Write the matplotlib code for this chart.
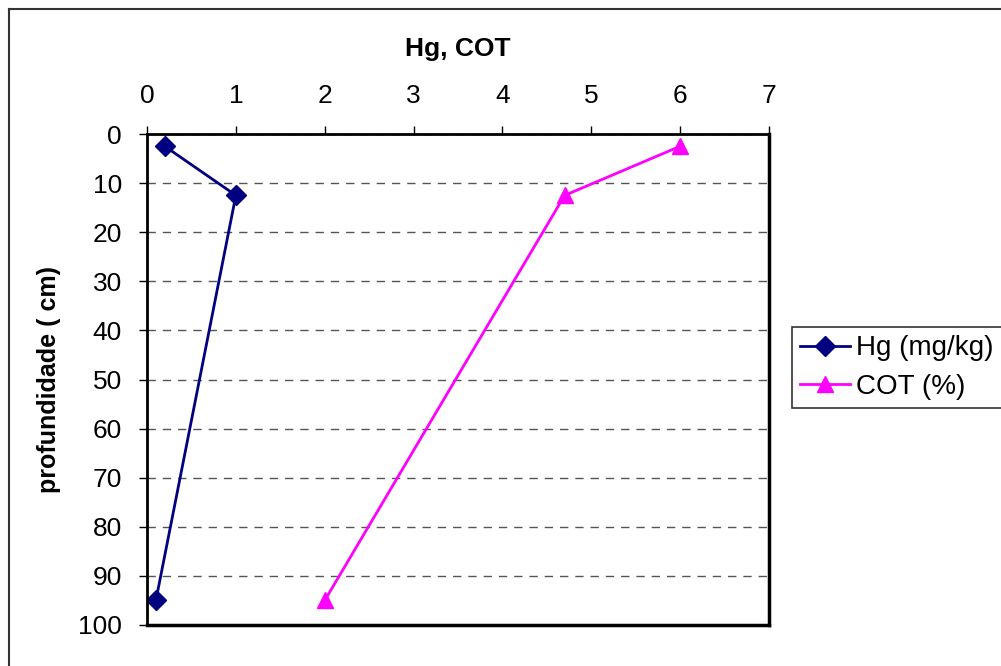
import matplotlib.pyplot as plt
from matplotlib.lines import Line2D

plt.rcParams['font.family'] = ['Liberation Sans', 'DejaVu Sans']

# depth profile (cm) and concentrations
depth = [2.5, 12.5, 95]
hg = [0.2, 1.0, 0.1]
cot = [6.0, 4.7, 2.0]
xticks = [0, 1, 2, 3, 4, 5, 6, 7]
yticks = [0, 10, 20, 30, 40, 50, 60, 70, 80, 90, 100]

W, H = 1001, 666
fig = plt.figure(figsize=(W / 100, H / 100), dpi=100)
ax = fig.add_axes([147 / W, 1 - 625 / H, (769 - 147) / W, (625 - 134) / H])

# outer chart border (runs off the right and bottom edges)
fig.add_artist(Line2D([8.5 / W, 8.5 / W], [1 - 8.5 / H, -0.1], transform=fig.transFigure,
                      color='#333333', lw=1.5))
fig.add_artist(Line2D([8.5 / W, 1.1], [1 - 8.5 / H, 1 - 8.5 / H], transform=fig.transFigure,
                      color='#333333', lw=1.5))

ax.plot(hg, depth, color='#000080', lw=2, marker='D', ms=10, label='Hg (mg/kg)')
ax.plot(cot, depth, color='#FF00FF', lw=2, marker='^', ms=11, label='COT (%)')

ax.set_xlim(0, 7)
ax.set_ylim(100, 0)
ax.set_xticks(xticks)
ax.set_yticks(yticks)
ax.xaxis.tick_top()
ax.xaxis.set_label_position('top')
ax.tick_params(axis='both', direction='out', length=6, width=1, labelsize=19, colors='black')
ax.tick_params(axis='x', pad=13)
ax.tick_params(axis='y', pad=12)
for s in ax.spines.values():
    s.set_linewidth(2)
ax.spines['bottom'].set_linewidth(2.5)
ax.spines['right'].set_linewidth(2.5)

ax.yaxis.grid(True, linestyle=(0, (6, 5)), color='#555555', lw=1)
ax.set_axisbelow(True)

ax.set_xlabel('Hg, COT', fontsize=19, fontweight='bold', labelpad=20)
ax.set_ylabel('profundidade ( cm)', fontsize=18, fontweight='bold', labelpad=12)

leg = fig.legend(loc='upper left', bbox_to_anchor=(792 / W, 1 - 327 / H), fontsize=20,
                 frameon=True, fancybox=False, edgecolor='black', borderpad=0.3,
                 handlelength=1.8, handletextpad=0.2, labelspacing=0.45, borderaxespad=0)
leg.get_frame().set_linewidth(1.2)

fig.savefig('out.png', dpi=100)
